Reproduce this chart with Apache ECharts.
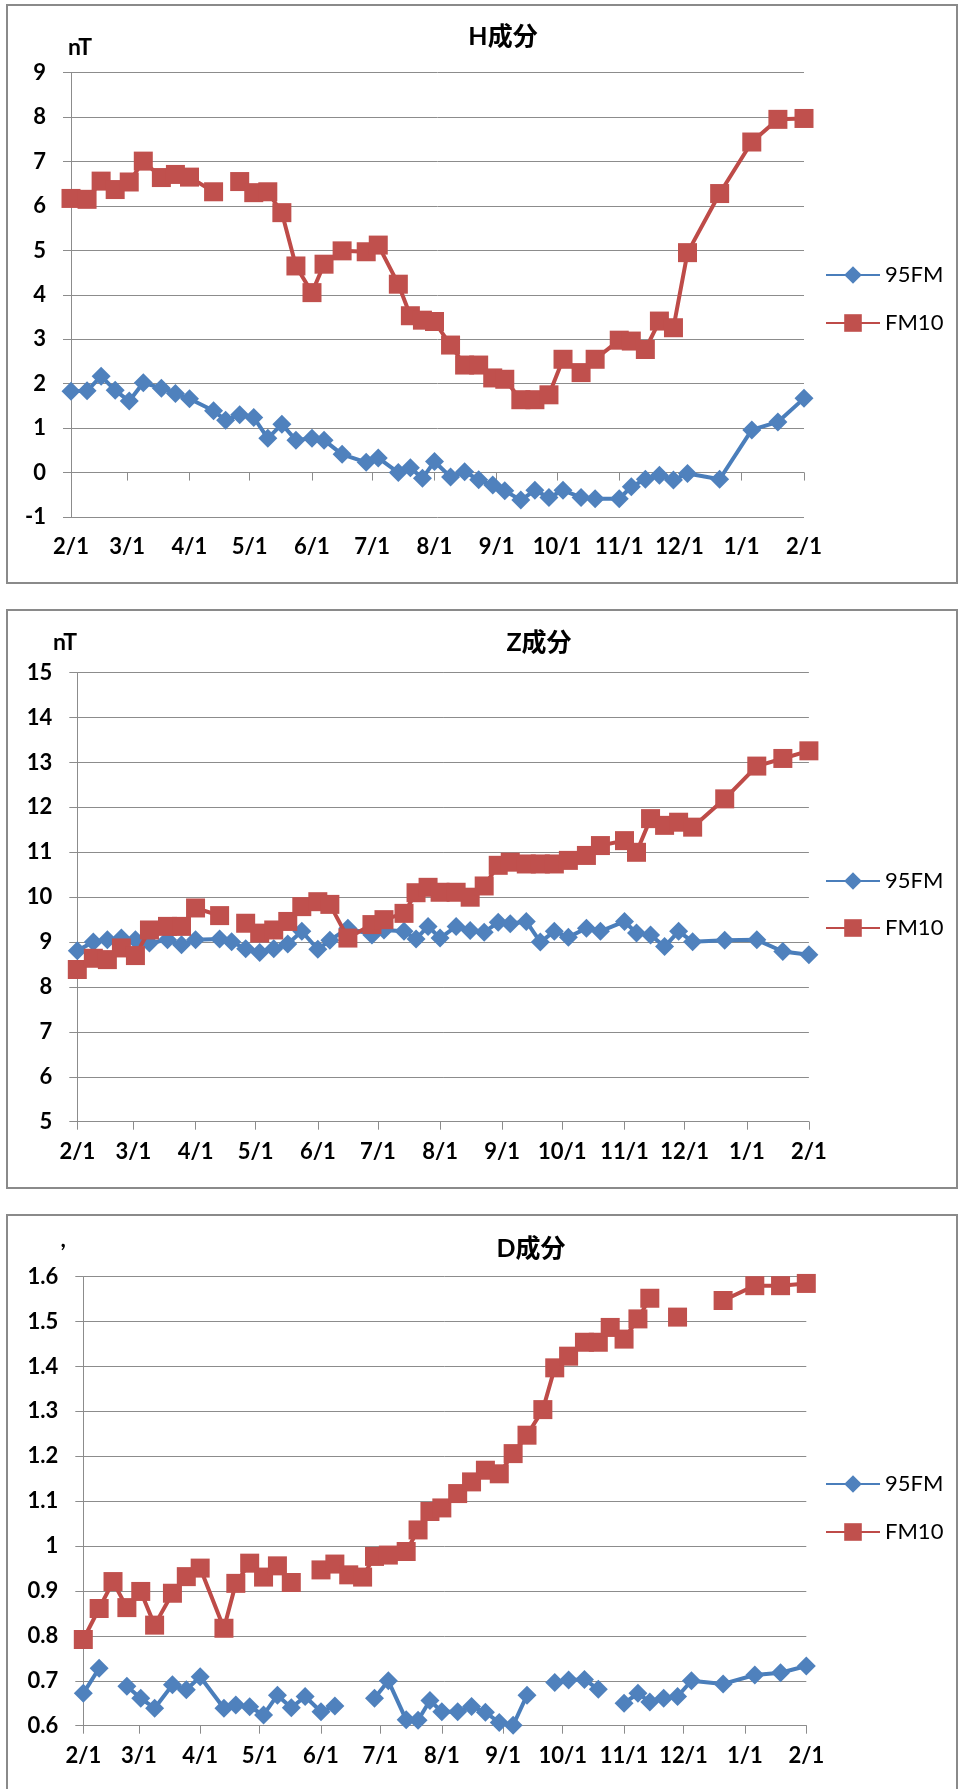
<!DOCTYPE html>
<html><head><meta charset="utf-8">
<script src="https://cdn.jsdelivr.net/npm/echarts@6/dist/echarts.min.js"></script>
<style>html,body{margin:0;padding:0;background:#fff}#c{width:960px;height:1789px}</style>
</head><body><div id="c"></div>
<script>
// ---------- data ----------
const seriesNames = ['95FM', 'FM10'];
const panelTitles = ['H成分', 'Z成分', 'D成分'];
const unitNames = ['nT', 'nT', ','];

// observation dates shared by H and Z
const hzDates = [
 '2009-02-01','2009-02-09','2009-02-16','2009-02-23','2009-03-02','2009-03-09','2009-03-18','2009-03-25','2009-04-01',
 '2009-04-13','2009-04-19','2009-04-26','2009-05-03','2009-05-10','2009-05-17','2009-05-24','2009-06-01','2009-06-07',
 '2009-06-16','2009-06-28','2009-07-04','2009-07-14','2009-07-20','2009-07-26','2009-08-01','2009-08-09','2009-08-16',
 '2009-08-23','2009-08-30','2009-09-05','2009-09-13','2009-09-20','2009-09-27','2009-10-04','2009-10-13','2009-10-20',
 '2009-11-01','2009-11-07','2009-11-14','2009-11-21','2009-11-28','2009-12-05','2009-12-21','2010-01-06','2010-01-19',
 '2010-02-01'
];
const h95FM = [
 1.83, 1.84, 2.17, 1.85, 1.61, 2.02, 1.90, 1.78, 1.66,
 1.39, 1.18, 1.30, 1.24, 0.77, 1.09, 0.73, 0.77, 0.73,
 0.41, 0.23, 0.33, 0.00, 0.11, -0.13, 0.25, -0.10, 0.02,
 -0.16, -0.28, -0.41, -0.62, -0.40, -0.56, -0.40, -0.56, -0.59,
 -0.59, -0.32, -0.15, -0.06, -0.17, -0.02, -0.15, 0.96, 1.14,
 1.67
];
const hFM10 = [
 6.17, 6.15, 6.56, 6.37, 6.54, 7.01, 6.64, 6.71, 6.65,
 6.32, null, 6.55, 6.30, 6.32, 5.85, 4.65, 4.05, 4.69,
 4.99, 4.97, 5.12, 4.24, 3.53, 3.43, 3.40, 2.87, 2.42,
 2.42, 2.13, 2.10, 1.64, 1.64, 1.75, 2.55, 2.25, 2.55,
 2.98, 2.96, 2.77, 3.41, 3.26, 4.95, 6.28, 7.44, 7.95,
 7.97
];
const z95FM = [
 8.81, 9.00, 9.05, 9.09, 9.05, 8.98, 9.05, 8.94, 9.05,
 9.07, 9.01, 8.85, 8.77, 8.85, 8.96, 9.24, 8.84, 9.04,
 9.31, 9.16, 9.27, 9.24, 9.07, 9.35, 9.09, 9.35, 9.26,
 9.22, 9.44, 9.41, 9.46, 9.00, 9.24, 9.11, 9.31, 9.24,
 9.46, 9.20, 9.16, 8.90, 9.24, 9.01, 9.04, 9.05, 8.79,
 8.72
];
const zFM10 = [
 8.39, 8.64, 8.61, 8.87, 8.70, 9.27, 9.35, 9.35, 9.76,
 9.59, null, 9.42, 9.20, 9.27, 9.46, 9.79, 9.90, 9.84,
 9.09, 9.39, 9.50, 9.64, 10.10, 10.22, 10.11, 10.11, 10.00,
 10.25, 10.71, 10.78, 10.74, 10.74, 10.74, 10.82, 10.93, 11.15,
 11.26, 11.00, 11.75, 11.60, 11.67, 11.56, 12.19, 12.92, 13.09,
 13.26
];

// observation dates for D
const dDates = [
 '2009-02-01','2009-02-09','2009-02-16','2009-02-23','2009-03-02','2009-03-09','2009-03-18','2009-03-25','2009-04-01',
 '2009-04-13','2009-04-19','2009-04-26','2009-05-03','2009-05-10','2009-05-17','2009-05-24','2009-06-01','2009-06-08',
 '2009-06-15','2009-06-22','2009-06-28','2009-07-05','2009-07-14','2009-07-20','2009-07-26','2009-08-01','2009-08-09',
 '2009-08-16','2009-08-23','2009-08-30','2009-09-06','2009-09-13','2009-09-21','2009-09-27','2009-10-04','2009-10-12',
 '2009-10-19','2009-10-25','2009-11-01','2009-11-08','2009-11-14','2009-11-21','2009-11-28','2009-12-05','2009-12-21',
 '2010-01-06','2010-01-19','2010-02-01'
];
const d95FM = [
 0.672, 0.728, null, 0.688, 0.661, 0.639, 0.691, 0.680, 0.709,
 0.639, 0.646, 0.642, 0.624, 0.668, 0.640, 0.665, 0.631, 0.644,
 null, null, 0.661, 0.700, 0.613, 0.612, 0.656, 0.631, 0.631,
 0.643, 0.630, 0.607, 0.601, 0.668, null, 0.696, 0.702, 0.703,
 0.681, null, 0.650, 0.672, 0.653, 0.661, 0.665, 0.700, 0.693,
 0.713, 0.718, 0.733
];
const dFM10 = [
 0.792, 0.861, 0.921, 0.863, 0.899, 0.824, 0.895, 0.932, 0.951,
 0.817, 0.917, 0.962, 0.931, 0.956, 0.919, null, 0.947, 0.960,
 0.936, 0.931, 0.977, 0.980, 0.988, 1.036, 1.077, 1.085, 1.117,
 1.143, 1.169, 1.161, 1.206, 1.247, 1.304, 1.397, 1.423, 1.454,
 1.454, 1.487, 1.461, 1.506, 1.552, null, 1.510, null, 1.547,
 1.580, 1.580, 1.585
];

const xAxisStart = '2009-02-01';
const xAxisEnd = '2010-02-01';
const yRanges = [[-1, 9, 1], [5, 15, 1], [0.6, 1.6, 0.1]];

// ---------- layout & style ----------
const FONT = 'Lato, "Noto Sans CJK JP", sans-serif';
const BLUE_LINE = '#4A7EBB', BLUE_MARK = '#4F81BD';
const RED_LINE = '#BE4B48', RED_MARK = '#C0504D';
const GRID_C = '#8c8c8c';
const TICK_FS = 22;

const layout = [
  {grid: {left: 71, top: 72.7, width: 733, height: 444.3}, box: [7, 5, 950, 578],
   title: [503, 37], legendTop: 258, legendGap: 24, unit: [68, 48, 'left']},
  {grid: {left: 77.3, top: 672.7, width: 731.6, height: 449}, box: [7, 610, 950, 578],
   title: [539, 643], legendTop: 864, legendGap: 23, unit: [77, 643, 'right']},
  {grid: {left: 83.3, top: 1276.7, width: 723, height: 449}, box: [7, 1215, 950, 600],
   title: [531, 1249], legendTop: 1467, legendGap: 24, unit: [66, 1240, 'right']}
];

const panelData = [
  {dates: hzDates, a: h95FM, b: hFM10},
  {dates: hzDates, a: z95FM, b: zFM10},
  {dates: dDates, a: d95FM, b: dFM10}
];

const pairs = (dates, vals) => dates.map((d, i) => [d, vals[i] == null ? null : vals[i]]);

const grids = [], xAxes = [], yAxes = [], series = [], legends = [], graphics = [];
layout.forEach((L, i) => {
  grids.push(Object.assign({}, L.grid));
  xAxes.push({
    type: 'time', gridIndex: i, min: xAxisStart, max: xAxisEnd, splitNumber: 12,
    minInterval: 28 * 864e5, maxInterval: 31 * 864e5,
    axisLine: {show: true, lineStyle: {color: GRID_C, width: 1}},
    axisTick: {show: true, inside: false, length: 8, lineStyle: {color: GRID_C}},
    splitLine: {show: false},
    axisLabel: {formatter: '{M}/{d}', color: '#000', fontFamily: FONT, fontWeight: 'bold', fontSize: TICK_FS, margin: 19, hideOverlap: false}
  });
  const r = yRanges[i];
  yAxes.push({
    type: 'value', gridIndex: i, min: r[0], max: r[1], interval: r[2],
    axisLine: {show: true, lineStyle: {color: GRID_C, width: 1}},
    axisTick: {show: true, inside: false, length: 8, lineStyle: {color: GRID_C}},
    splitLine: {show: true, lineStyle: {color: GRID_C, width: 1}},
    axisLabel: {color: '#000', fontFamily: FONT, fontWeight: 'bold', fontSize: TICK_FS, margin: 25}
  });
  const pd = panelData[i];
  series.push({
    name: seriesNames[0], type: 'line', xAxisIndex: i, yAxisIndex: i,
    data: pairs(pd.dates, pd.a), symbol: 'diamond', symbolSize: 19, showAllSymbol: true,
    connectNulls: false, lineStyle: {color: BLUE_LINE, width: 4},
    itemStyle: {color: BLUE_MARK, borderColor: BLUE_MARK, borderWidth: 0}, z: 2
  });
  series.push({
    name: seriesNames[1], type: 'line', xAxisIndex: i, yAxisIndex: i,
    data: pairs(pd.dates, pd.b), symbol: 'rect', symbolSize: 19, showAllSymbol: true,
    connectNulls: false, lineStyle: {color: RED_LINE, width: 4},
    itemStyle: {color: RED_MARK, borderColor: RED_MARK, borderWidth: 0}, z: 3
  });
  legends.push({
    data: seriesNames, orient: 'vertical', left: 820, top: L.legendTop,
    itemWidth: 54, itemHeight: 22, itemGap: L.legendGap, selectedMode: false,
    textStyle: {color: '#000', fontFamily: FONT, fontSize: 22, lineHeight: 24}
  });
  graphics.push({
    type: 'rect', shape: {x: L.box[0], y: L.box[1], width: L.box[2], height: L.box[3]},
    style: {fill: null, stroke: '#8a8a8a', lineWidth: 2}, silent: true, z: -1
  });
  graphics.push({
    type: 'text', x: L.title[0], y: L.title[1], silent: true,
    style: {text: panelTitles[i], fill: '#000', font: 'bold 25px ' + FONT, align: 'center', verticalAlign: 'middle', textAlign: 'center', textVerticalAlign: 'middle'}
  });
  graphics.push({
    type: 'text', x: L.unit[0], y: L.unit[1], silent: true,
    style: {text: unitNames[i], fill: '#000', font: 'bold 23px ' + FONT, align: L.unit[2], verticalAlign: 'middle', textAlign: L.unit[2], textVerticalAlign: 'middle'}
  });
});

const chart = echarts.init(document.getElementById('c'), null, {renderer: 'canvas', width: 960, height: 1789});
chart.setOption({
  animation: false,
  backgroundColor: '#fff',
  grid: grids, xAxis: xAxes, yAxis: yAxes, series: series, legend: legends,
  graphic: graphics
});
</script>
</body></html>
